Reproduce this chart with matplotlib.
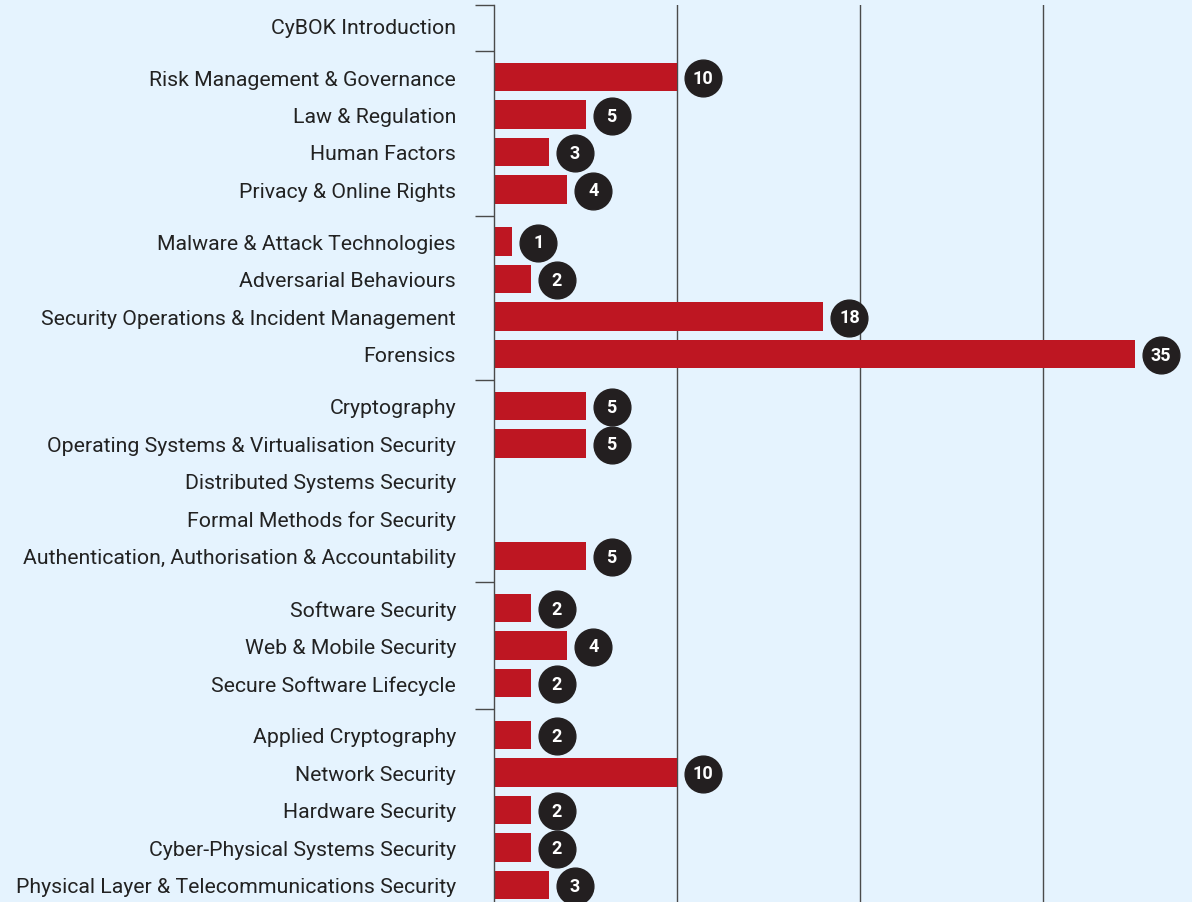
import matplotlib.pyplot as plt
from matplotlib.transforms import offset_copy

topics = ["CyBOK Introduction",
          "Risk Management & Governance", "Law & Regulation", "Human Factors", "Privacy & Online Rights",
          "Malware & Attack Technologies", "Adversarial Behaviours",
          "Security Operations & Incident Management", "Forensics",
          "Cryptography", "Operating Systems & Virtualisation Security", "Distributed Systems Security",
          "Formal Methods for Security", "Authentication, Authorisation & Accountability",
          "Software Security", "Web & Mobile Security", "Secure Software Lifecycle",
          "Applied Cryptography", "Network Security", "Hardware Security",
          "Cyber-Physical Systems Security", "Physical Layer & Telecommunications Security"]
counts = [0, 10, 5, 3, 4, 1, 2, 18, 35, 5, 5, 0, 0, 5, 2, 4, 2, 2, 10, 2, 2, 3]
group_sizes = [1, 4, 4, 5, 3, 5]

bg = "#e5f3fe"
red = "#be1622"
dark = "#231f20"
line_col = "#4a4a4a"

# row positions with a small gap between groups
gap = 14.5 / 37.5
ypos = []
seps = [-20 / 37.5]
y = 0.0
for gi, n in enumerate(group_sizes):
    for k in range(n):
        ypos.append(y)
        y += 1
    if gi < len(group_sizes) - 1:
        seps.append(y - 1 + (1 + gap) / 2)
    y += gap

plt.rcParams['font.family'] = ['Roboto', 'DejaVu Sans']
fig = plt.figure(figsize=(11.92, 9.03), dpi=100, facecolor=bg)
ax = fig.add_axes([494 / 1192, 0, 1 - 494 / 1192, 1 - 6 / 903])
ax.set_facecolor(bg)

ax.barh(ypos, counts, height=0.76, color=red, zorder=2)

ax.set_xlim(0, (1192 - 494) / 18.3)
ax.set_ylim((903 - 26) / 37.5, -20 / 37.5)

for xv in [10, 20, 30]:
    ax.axvline(xv, color=line_col, lw=1, zorder=1)

for s in ["top", "right", "bottom"]:
    ax.spines[s].set_visible(False)
ax.spines["left"].set_color(line_col)
ax.spines["left"].set_linewidth(1)

ax.set_xticks([])
ax.set_yticks(seps)
ax.set_yticklabels([])
ax.tick_params(axis="y", which="major", length=13.7, width=1, color=line_col, direction="out")
ax.set_yticks(ypos, minor=True)
ax.set_yticklabels(topics, minor=True, fontsize=15.3, color="#222222")
ax.tick_params(axis="y", which="minor", length=0, pad=27.4)

off = offset_copy(ax.transData, fig=fig, x=26, y=-1, units="dots")
for yy, c in zip(ypos, counts):
    if c > 0:
        ax.scatter([c], [yy], s=700, color=dark, transform=off, zorder=3, clip_on=False)
        ax.text(c, yy, str(c), transform=off, ha="center", va="center",
                color="white", fontsize=13, fontweight="bold", zorder=4)

fig.savefig("out.png", dpi=100, facecolor=bg)
